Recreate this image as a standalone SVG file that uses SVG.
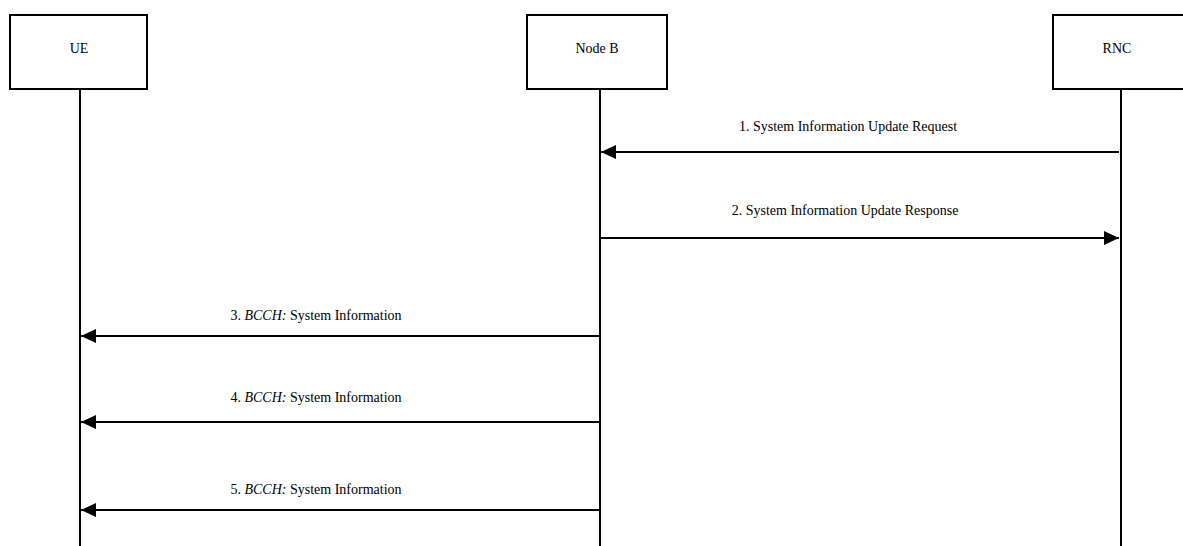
<svg xmlns="http://www.w3.org/2000/svg" width="1183" height="546" viewBox="0 0 1183 546">
  <style>
    .box { fill: #fff; stroke: #000; stroke-width: 2; }
    .life { stroke: #000; stroke-width: 2; fill: none; }
    .msg { stroke: #000; stroke-width: 2; fill: none; }
    .name { font-family: "Liberation Serif", "Times New Roman", serif; font-size: 14px; text-anchor: middle; fill: #000; }
    .lbl { font-family: "Liberation Serif", "Times New Roman", serif; font-size: 14px; text-anchor: middle; fill: #000; }
  </style>
  <defs>
    <marker id="arrow" markerUnits="userSpaceOnUse" markerWidth="16" markerHeight="14" refX="15" refY="7" orient="auto">
      <path d="M0,0 L15,7 L0,14 Z" fill="#000"/>
    </marker>
  </defs>
  <rect width="1183" height="546" fill="#fff"/>

  <g id="ue">
    <line class="life" x1="80" y1="89" x2="80" y2="546"/>
    <rect class="box" x="10" y="15" width="137" height="74"/>
    <text class="name" x="79" y="53">UE</text>
  </g>
  <g id="nodeb">
    <line class="life" x1="600" y1="89" x2="600" y2="546"/>
    <rect class="box" x="527" y="15" width="140" height="74"/>
    <text class="name" x="597" y="53">Node B</text>
  </g>
  <g id="rnc">
    <line class="life" x1="1121" y1="89" x2="1121" y2="546"/>
    <rect class="box" x="1053" y="15" width="140" height="74"/>
    <text class="name" x="1117" y="53">RNC</text>
  </g>

  <g id="connectors">
    <line class="msg" x1="1119" y1="152" x2="601" y2="152" marker-end="url(#arrow)"/>
    <text class="lbl" x="848" y="131">1. System Information Update Request</text>

    <line class="msg" x1="600" y1="238" x2="1119" y2="238" marker-end="url(#arrow)"/>
    <text class="lbl" x="845" y="215">2. System Information Update Response</text>

    <line class="msg" x1="600" y1="336" x2="81" y2="336" marker-end="url(#arrow)"/>
    <text class="lbl" x="316" y="320">3. <tspan font-style="italic">BCCH:</tspan> System Information</text>

    <line class="msg" x1="600" y1="422" x2="81" y2="422" marker-end="url(#arrow)"/>
    <text class="lbl" x="316" y="402">4. <tspan font-style="italic">BCCH:</tspan> System Information</text>

    <line class="msg" x1="600" y1="510" x2="81" y2="510" marker-end="url(#arrow)"/>
    <text class="lbl" x="316" y="494">5. <tspan font-style="italic">BCCH:</tspan> System Information</text>
  </g>
</svg>
